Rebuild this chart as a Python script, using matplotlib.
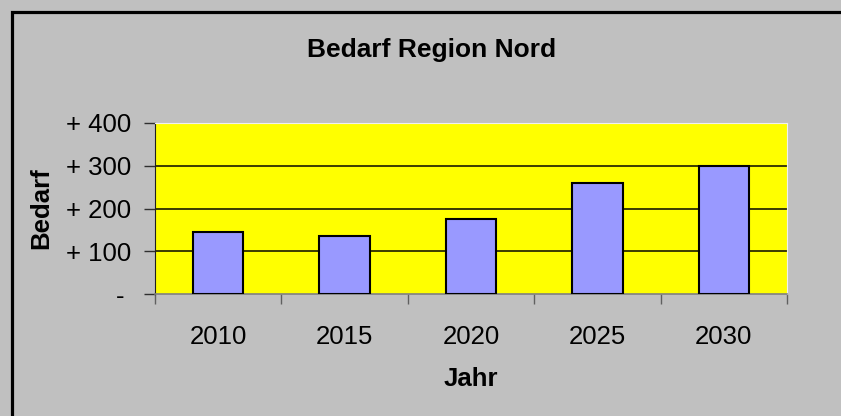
import numpy as np
import matplotlib
matplotlib.use('Agg')
import matplotlib.pyplot as plt
from matplotlib.patches import Rectangle

# === Data ===
years = ['2010', '2015', '2020', '2025', '2030']
bedarf = [144, 136, 175, 260, 299]
y_ticks = [0, 100, 200, 300, 400]
y_tick_labels = ['- ', '+ 100', '+ 200', '+ 300', '+ 400']

plt.rcParams['font.family'] = ['Liberation Sans', 'DejaVu Sans']

W, H = 841, 416
fig = plt.figure(figsize=(W / 100, H / 100), dpi=100)
fig.patch.set_facecolor('#C0C0C0')

# chart-area border (right/bottom run off the picture)
fig.patches.append(Rectangle((11.5 / W, -0.1), 2.0, (H - 11.5) / H + 0.1,
                             transform=fig.transFigure, fill=False,
                             edgecolor='black', linewidth=2.3))

ax = fig.add_axes([155 / W, (H - 294) / H, 632 / W, 171 / H])
ax.set_facecolor('#FFFF00')

x = np.arange(len(years))
ax.bar(x, bedarf, width=0.4, color='#9999FF', edgecolor='black', linewidth=1.5, zorder=3)

for v in y_ticks[1:-1]:
    ax.axhline(v, color='#1a1a00', linewidth=1.2, zorder=1)

ax.set_xlim(-0.5, len(years) - 0.5)
ax.set_ylim(0, 400)

ax.set_yticks(y_ticks)
ax.set_yticklabels(y_tick_labels, fontsize=18.5)
ax.tick_params(axis='y', length=8, width=1, color='#303030', pad=9)

ax.set_xticks(x)
ax.set_xticklabels(years, fontsize=18.5)
ax.set_xticks(np.arange(len(years) + 1) - 0.5, minor=True)
ax.tick_params(axis='x', which='major', length=0, pad=22)
ax.tick_params(axis='x', which='minor', length=7, width=1, color='#606060')

ax.spines['left'].set_color('#202020')
ax.spines['bottom'].set_color('#808080')
ax.spines['bottom'].set_linewidth(1.2)
ax.spines['top'].set_color('#F0F0F0')
ax.spines['right'].set_color('#F0F0F0')

ax.set_xlabel('Jahr', fontsize=18.5, fontweight='bold', labelpad=13)
ax.set_ylabel('Bedarf', fontsize=18.5, fontweight='bold', labelpad=9)

fig.text(432 / W, 1 - 50 / H, 'Bedarf Region Nord', fontsize=19, fontweight='bold',
         ha='center', va='center')

fig.savefig('out.png', dpi=100, facecolor=fig.get_facecolor())
